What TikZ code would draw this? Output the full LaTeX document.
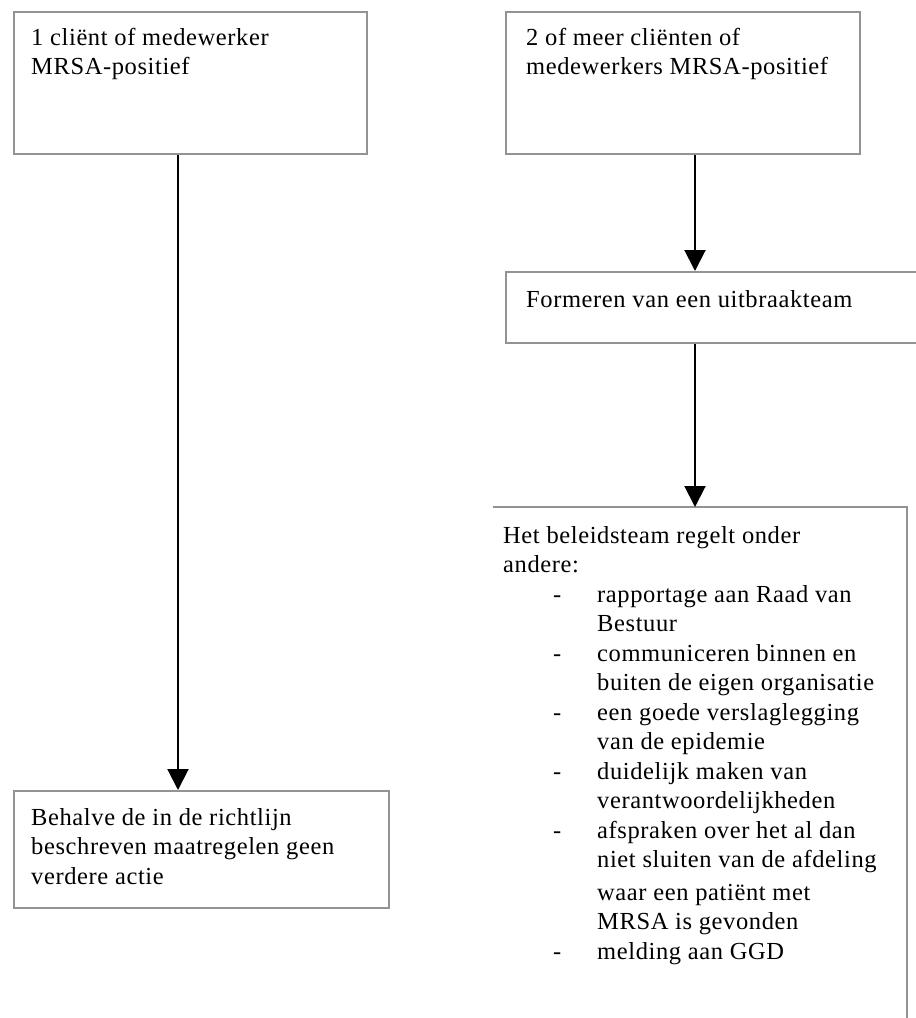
\documentclass[tikz,border=0pt]{standalone}
\usepackage{fontspec}
\setmainfont{Liberation Serif}[LetterSpace=2.5]
\usetikzlibrary{arrows.meta}
\newcommand\myfirst{\rule{0pt}{20pt}}
\newcommand\itemdash{\hspace*{50pt}\makebox[44pt][l]{-}}
\newcommand\itemcont{\hspace*{94pt}}
\tikzset{
  boxshape/.style={rectangle, draw=gray!85, line width=2pt, inner sep=0pt, anchor=north west},
  boxtext/.style={inner sep=0pt, anchor=north west, align=left, font=\fontsize{24.5pt}{29.5pt}\selectfont},
  flow/.style={draw=black, line width=2pt, -{Triangle[width=21pt,length=21pt]}}
}
\begin{document}
\begin{tikzpicture}[x=1pt,y=-1pt]
\clip (0,0) rectangle (916,1018);
\fill[white] (0,0) rectangle (916,1018);
% boxes
\node[boxshape, minimum width=353pt, minimum height=142pt] (a) at (13,11) {};
\node[boxshape, minimum width=354pt, minimum height=142pt] (b) at (505,11) {};
\node[boxshape, minimum width=440pt, minimum height=71pt] (c) at (505,271) {};
\node[boxshape, draw=none, minimum width=412pt, minimum height=540pt] (d) at (493,507) {};
\draw[draw=gray!85, line width=2pt] (d.north west) -- (d.north east) -- (d.south east);
\node[boxshape, minimum width=375pt, minimum height=117pt] (e) at (13,790) {};
% texts
\node[boxtext] (ta) at (31,25) {\myfirst 1 cliënt of medewerker\\MRSA-positief};
\node[boxtext] (tb) at (526,25) {\myfirst 2 of meer cliënten of\\medewerkers MRSA-positief};
\node[boxtext] (tc) at (526,287) {\myfirst Formeren van een uitbraakteam};
\node[boxtext] (td) at (503,523) {\myfirst Het beleidsteam regelt onder\\
andere:\\
\itemdash rapportage aan Raad van\\
\itemcont Bestuur\\
\itemdash communiceren binnen en\\
\itemcont buiten de eigen organisatie\\
\itemdash een goede verslaglegging\\
\itemcont van de epidemie\\
\itemdash duidelijk maken van\\
\itemcont verantwoordelijkheden\\
\itemdash afspraken over het al dan\\
\itemcont niet sluiten van de afdeling\\[3pt]
\itemcont waar een patiënt met\\
\itemcont MRSA is gevonden\\
\itemdash melding aan GGD};
\node[boxtext] (te) at (31,805) {\myfirst Behalve de in de richtlijn\\beschreven maatregelen geen\\verdere actie};
% connectors
\draw[flow] (a.south -| 178,0) -- (e.north -| 178,0);
\draw[flow] (b.south -| 695,0) -- (c.north -| 695,0);
\draw[flow] (c.south -| 695,0) -- (d.north -| 695,0);
\end{tikzpicture}
\end{document}
